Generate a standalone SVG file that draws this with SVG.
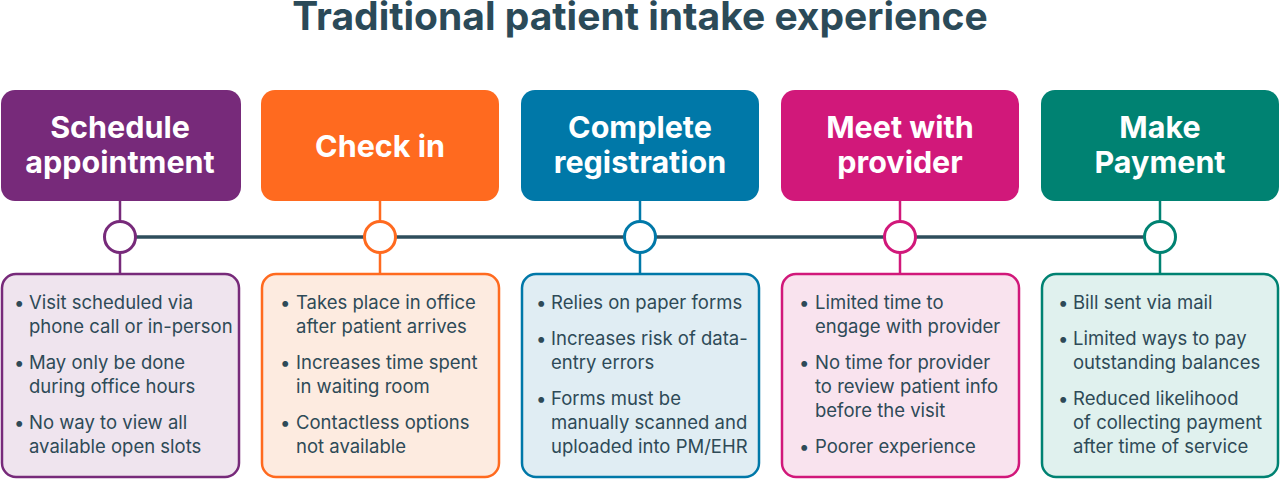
<svg xmlns="http://www.w3.org/2000/svg" width="1280" height="480" viewBox="0 0 1280 480">
<style>
.t{font-family:Inter,"Noto Sans",sans-serif;font-weight:700;font-size:30.5px;fill:#fff;text-anchor:middle}
.h{font-family:Inter,"Noto Sans",sans-serif;font-weight:700;font-size:39px;fill:#2b4a58;text-anchor:middle}
.b{font-family:Inter,"Noto Sans",sans-serif;font-size:18.5px;fill:#2e4a57}
.st{stroke-width:3;fill:#fff}
.lb{stroke-width:2.5}
</style>
<rect width="1280" height="480" fill="#fff"/>
<text class="h" x="640" y="30">Traditional patient intake experience</text>
<g id="connectors">
<line x1="136" y1="237" x2="1144" y2="237" stroke="#2e4e5c" stroke-width="3.5"/>
<line x1="120" y1="200" x2="120" y2="274" stroke="#772a7a" stroke-width="2.5"/>
<line x1="380" y1="200" x2="380" y2="274" stroke="#ff6a1f" stroke-width="2.5"/>
<line x1="640" y1="200" x2="640" y2="274" stroke="#0078a8" stroke-width="2.5"/>
<line x1="900" y1="200" x2="900" y2="274" stroke="#d1187a" stroke-width="2.5"/>
<line x1="1160" y1="200" x2="1160" y2="274" stroke="#008272" stroke-width="2.5"/>
</g>
<g id="n1">
<rect x="1" y="90" width="240" height="111" rx="14" fill="#772a7a"/>
<text class="t" x="120" y="138">Schedule</text><text class="t" x="120" y="173">appointment</text>
<circle cx="120" cy="237" r="15.5" class="st" stroke="#772a7a"/>
<rect x="2" y="274" width="237" height="203" rx="14" fill="#efe4ee" stroke="#772a7a" class="lb"/>
<g class="b"><text x="14" y="309">•</text><text x="29" y="309">Visit scheduled via</text><text x="29" y="333">phone call or in-person</text>
<text x="14" y="369">•</text><text x="29" y="369">May only be done</text><text x="29" y="393">during office hours</text>
<text x="14" y="429">•</text><text x="29" y="429">No way to view all</text><text x="29" y="453">available open slots</text></g>
</g>
<g id="n2">
<rect x="261" y="90" width="238" height="111" rx="14" fill="#ff6a1f"/>
<text class="t" x="380" y="157">Check in</text>
<circle cx="380" cy="237" r="15.5" class="st" stroke="#ff6a1f"/>
<rect x="262" y="274" width="237" height="203" rx="14" fill="#fdebe0" stroke="#ff6a1f" class="lb"/>
<g class="b"><text x="280" y="309">•</text><text x="296" y="309">Takes place in office</text><text x="296" y="333">after patient arrives</text>
<text x="280" y="369">•</text><text x="296" y="369">Increases time spent</text><text x="296" y="393">in waiting room</text>
<text x="280" y="429">•</text><text x="296" y="429">Contactless options</text><text x="296" y="453">not available</text></g>
</g>
<g id="n3">
<rect x="521" y="90" width="238" height="111" rx="14" fill="#0078a8"/>
<text class="t" x="640" y="138">Complete</text><text class="t" x="640" y="173">registration</text>
<circle cx="640" cy="237" r="15.5" class="st" stroke="#0078a8"/>
<rect x="522" y="274" width="237" height="203" rx="14" fill="#e0edf3" stroke="#0078a8" class="lb"/>
<g class="b"><text x="536" y="309">•</text><text x="551" y="309">Relies on paper forms</text>
<text x="536" y="345">•</text><text x="551" y="345">Increases risk of data-</text><text x="551" y="369">entry errors</text>
<text x="536" y="405">•</text><text x="551" y="405">Forms must be</text><text x="551" y="429">manually scanned and</text><text x="551" y="453">uploaded into PM/EHR</text></g>
</g>
<g id="n4">
<rect x="781" y="90" width="238" height="111" rx="14" fill="#d1187a"/>
<text class="t" x="900" y="138">Meet with</text><text class="t" x="900" y="173">provider</text>
<circle cx="900" cy="237" r="15.5" class="st" stroke="#d1187a"/>
<rect x="782" y="274" width="237" height="203" rx="14" fill="#f9e3ee" stroke="#d1187a" class="lb"/>
<g class="b"><text x="799" y="309">•</text><text x="815" y="309">Limited time to</text><text x="815" y="333">engage with provider</text>
<text x="799" y="369">•</text><text x="815" y="369">No time for provider</text><text x="815" y="393">to review patient info</text><text x="815" y="417">before the visit</text>
<text x="799" y="453">•</text><text x="815" y="453">Poorer experience</text></g>
</g>
<g id="n5">
<rect x="1041" y="90" width="238" height="111" rx="14" fill="#008272"/>
<text class="t" x="1160" y="138">Make</text><text class="t" x="1160" y="173">Payment</text>
<circle cx="1160" cy="237" r="15.5" class="st" stroke="#008272"/>
<rect x="1042" y="274" width="236" height="203" rx="14" fill="#e0f1ee" stroke="#008272" class="lb"/>
<g class="b"><text x="1058" y="309">•</text><text x="1073" y="309">Bill sent via mail</text>
<text x="1058" y="345">•</text><text x="1073" y="345">Limited ways to pay</text><text x="1073" y="369">outstanding balances</text>
<text x="1058" y="405">•</text><text x="1073" y="405">Reduced likelihood</text><text x="1073" y="429">of collecting payment</text><text x="1073" y="453">after time of service</text></g>
</g>
</svg>
